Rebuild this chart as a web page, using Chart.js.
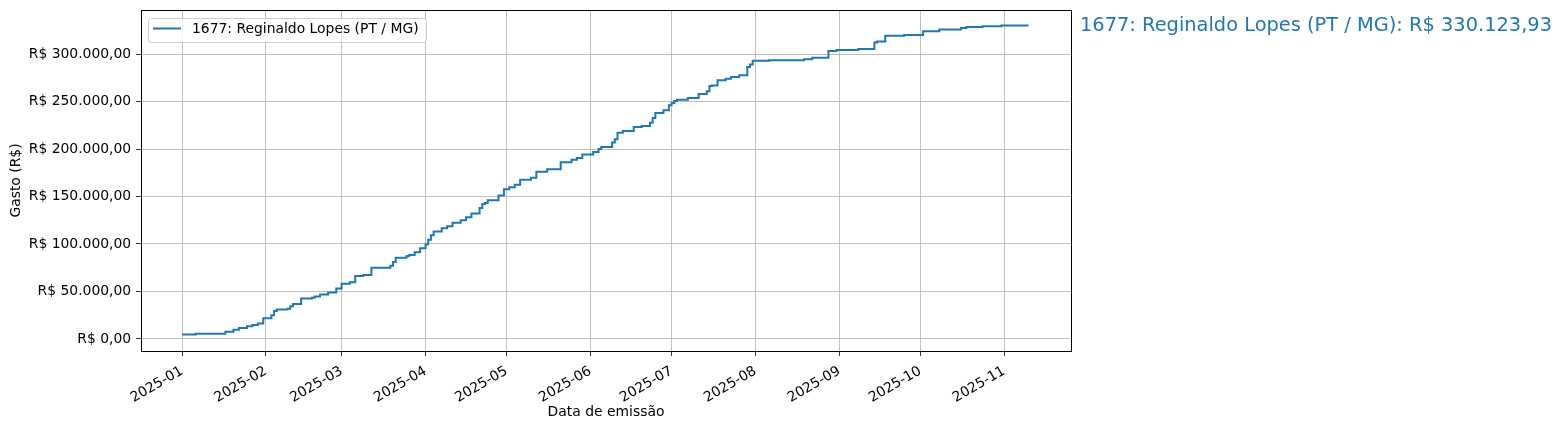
<!DOCTYPE html>
<html><head><meta charset="utf-8">
<script src="https://cdn.jsdelivr.net/npm/chart.js@4.4.1/dist/chart.umd.min.js"></script>
<style>html,body{margin:0;padding:0;background:#fff;}canvas{display:block;}</style>
</head><body>
<canvas id="c" width="1563" height="430"></canvas>
<script>
const seriesName = '1677: Reginaldo Lopes (PT / MG)';
const totalText = '1677: Reginaldo Lopes (PT / MG): R$ 330.123,93';
const xAxisTitle = 'Data de emissão';
const yAxisTitle = 'Gasto (R$)';

const dates = [
 '2025-01-01','2025-01-06','2025-01-17','2025-01-20','2025-01-22','2025-01-25','2025-01-27','2025-01-29','2025-01-31',
 '2025-02-03','2025-02-04','2025-02-05','2025-02-09','2025-02-10','2025-02-11','2025-02-14','2025-02-18','2025-02-19',
 '2025-02-21','2025-02-24','2025-02-27','2025-03-01','2025-03-04','2025-03-06','2025-03-09','2025-03-12','2025-03-19',
 '2025-03-20','2025-03-21','2025-03-25','2025-03-26','2025-03-28','2025-03-30','2025-04-01','2025-04-02','2025-04-03',
 '2025-04-04','2025-04-07','2025-04-09','2025-04-11','2025-04-14','2025-04-16','2025-04-18','2025-04-21','2025-04-22',
 '2025-04-23','2025-04-24','2025-04-28','2025-04-30','2025-05-02','2025-05-04','2025-05-06','2025-05-10','2025-05-12',
 '2025-05-16','2025-05-21','2025-05-25','2025-05-27','2025-05-29','2025-06-02','2025-06-04','2025-06-05','2025-06-09',
 '2025-06-10','2025-06-11','2025-06-13','2025-06-17','2025-06-20','2025-06-23','2025-06-24','2025-06-25','2025-06-28',
 '2025-06-30','2025-07-01','2025-07-02','2025-07-03','2025-07-07','2025-07-11','2025-07-14','2025-07-15','2025-07-16',
 '2025-07-18','2025-07-21','2025-07-23','2025-07-26','2025-07-29','2025-07-30','2025-07-31','2025-08-06','2025-08-19',
 '2025-08-22','2025-08-28','2025-08-31','2025-09-08','2025-09-14','2025-09-15','2025-09-18','2025-09-25','2025-10-02',
 '2025-10-08','2025-10-16','2025-10-18','2025-10-24','2025-10-31','2025-11-10'
];
const values = [
 4800,5500,7600,9800,11600,13300,14700,16300,21800,
 25000,29500,30900,31900,34400,36800,42500,43500,44600,
 46700,48800,53000,58200,59700,66300,67400,75100,77200,
 81000,85600,87400,88400,91200,95400,99700,104600,109100,
 113200,116500,118700,122500,125000,128200,132000,138000,142200,
 143300,146100,151000,157700,159800,162300,167600,169700,176000,
 178800,186200,188700,190500,194300,196800,200000,202100,207000,
 210200,217200,219000,223200,224300,227800,232700,238000,240800,
 246100,248500,250700,252000,253800,258100,260800,266300,267000,
 272400,274100,275900,277700,286500,289000,292900,293600,294700,
 296100,303300,304300,305300,312300,313300,319200,320200,324000,
 326000,327600,328600,329400,330123.93,330123.93
];
const xTickMonths = ['2025-01','2025-02','2025-03','2025-04','2025-05','2025-06','2025-07','2025-08','2025-09','2025-10','2025-11'];
const yTicks = [0,50000,100000,150000,200000,250000,300000];

const DAY = 86400000;
const t0 = Date.parse('2025-01-01');
const xMin = t0 - 15.2*DAY, xMax = t0 + 328.7*DAY;
const yMin = -12700, yMax = 346450;

function brl(v){
  const neg = v < 0; v = Math.abs(v);
  const [i,d] = v.toFixed(2).split('.');
  return (neg?'-':'') + 'R$ ' + i.replace(/\B(?=(\d{3})+(?!\d))/g,'.') + ',' + d;
}
const FONT = "'DejaVu Sans', sans-serif";
const COLOR = '#1f77b4';

const extras = {
  id:'extras',
  afterDatasetsDraw(chart){
    const ctx = chart.ctx, a = chart.chartArea;
    ctx.save();
    ctx.strokeStyle='#000'; ctx.lineWidth=1;
    const l = Math.round(a.left)+0.5, r = Math.round(a.right)+0.5, t = Math.round(a.top)+0.5, b = Math.round(a.bottom)+0.5;
    ctx.strokeRect(l, t, r-l, b-t);
    ctx.font = '13.9px ' + FONT;
    const tw = ctx.measureText(seriesName).width;
    const bx = a.left+7, by = a.top+8, bh = 24, bw = 44 + tw + 7;
    ctx.beginPath();
    ctx.roundRect(Math.round(bx)+0.5, Math.round(by)+0.5, Math.round(bw), bh, 3);
    ctx.fillStyle='rgba(255,255,255,0.8)'; ctx.fill();
    ctx.strokeStyle='#cccccc'; ctx.lineWidth=1; ctx.stroke();
    ctx.beginPath(); ctx.moveTo(bx+5, by+10.5); ctx.lineTo(bx+33, by+10.5);
    ctx.strokeStyle=COLOR; ctx.lineWidth=2; ctx.stroke();
    ctx.fillStyle='#000'; ctx.textBaseline='middle'; ctx.textAlign='left';
    ctx.fillText(seriesName, bx+44, by+11);
    ctx.font = '19.4px ' + FONT;
    ctx.fillStyle = COLOR; ctx.textBaseline='alphabetic';
    ctx.fillText(totalText, a.right+9, 31);
    ctx.restore();
  }
};

new Chart(document.getElementById('c'), {
  type:'line',
  data:{ datasets:[{
    label: seriesName,
    data: dates.map((d,i)=>({x:Date.parse(d), y:values[i]})),
    borderColor: COLOR, borderWidth: 2, pointRadius: 0, stepped: 'before', fill:false, tension:0
  }]},
  options:{
    responsive:false, animation:false, devicePixelRatio:1,
    layout:{padding:{top:10,right:492,left:0,bottom:0}},
    plugins:{legend:{display:false}, tooltip:{enabled:false}},
    scales:{
      x:{
        type:'linear', min:xMin, max:xMax,
        afterBuildTicks: s => { s.ticks = xTickMonths.map(m=>({value: Date.parse(m+'-01')})); },
        afterFit: s => { s.height = 79; s.paddingLeft = 0; s.paddingRight = 0; },
        ticks:{ autoSkip:false, minRotation:30, maxRotation:30, color:'#000', font:{family:FONT,size:13.9}, padding:7,
          callback: v => { const d=new Date(v); return d.getUTCFullYear()+'-'+String(d.getUTCMonth()+1).padStart(2,'0'); } },
        grid:{ color:'#b0b0b0', lineWidth:0.8, tickColor:'#000', tickLength:4.9, tickWidth:0.8 },
        border:{ display:false },
        title:{ display:true, text:xAxisTitle, color:'#000', font:{family:FONT,size:13.9}, padding:{top:0,bottom:9.3} }
      },
      y:{
        type:'linear', min:yMin, max:yMax,
        afterBuildTicks: s => { s.ticks = yTicks.map(v=>({value:v})); },
        afterFit: s => { s.width = 141; s.paddingTop = 0; s.paddingBottom = 0; },
        ticks:{ color:'#000', font:{family:FONT,size:13.9}, padding:4.9, callback: v => brl(v) },
        grid:{ color:'#b0b0b0', lineWidth:0.8, tickColor:'#000', tickLength:4.9, tickWidth:0.8 },
        border:{ display:false },
        title:{ display:true, text:yAxisTitle, color:'#000', font:{family:FONT,size:13.9}, padding:{top:7.6,bottom:0} }
      }
    }
  },
  plugins:[extras]
});
</script>
</body></html>
